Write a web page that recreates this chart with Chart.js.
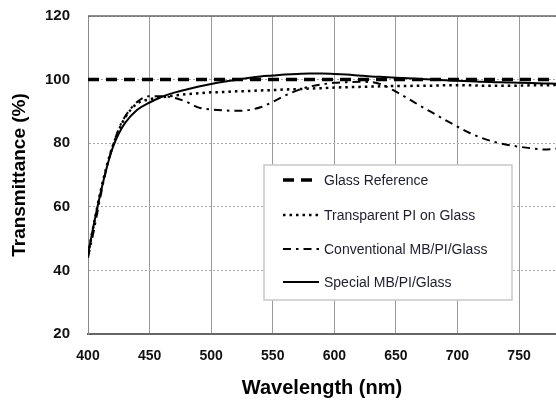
<!DOCTYPE html>
<html>
<head>
<meta charset="utf-8">
<script src="https://cdn.jsdelivr.net/npm/chart.js@4.4.1/dist/chart.umd.min.js"></script>
<style>
html, body { margin:0; padding:0; background:#fff; overflow:hidden; }
#wrap { width:556px; height:400px; }
</style>
</head>
<body>
<div id="wrap"><canvas id="myChart" width="556" height="400"></canvas></div>
<script>
var wavelengths = [400, 405, 410, 415, 420, 425, 430, 440, 450, 460, 470, 480, 490, 500, 510, 520, 530, 540, 550, 560,
 570, 580, 590, 600, 610, 620, 630, 640, 650, 660, 670, 680, 690, 700, 710, 720, 730, 740, 750, 760, 770, 780];

var glass_ref = [100, 100, 100, 100, 100, 100, 100, 100, 100, 100, 100, 100, 100, 100, 100, 100, 100, 100, 100, 100,
 100, 100, 100, 100, 100, 100, 100, 100, 100, 100, 100, 100, 100, 100, 100, 100, 100, 100, 100, 100, 100, 100];

var transparent_pi = [45, 55, 64.5, 72.5, 79, 84, 88, 92.5, 93.8, 94.4, 95, 95.4, 95.7, 96, 96.1, 96.3, 96.4, 96.6, 96.7, 96.9,
 97, 97.2, 97.3, 97.5, 97.6, 97.7, 97.8, 97.9, 98, 98, 98.1, 98.1, 98.2, 98.2, 98.2, 98.1, 98.1, 98.1, 98.1, 98.2, 98.2, 98.3];

var conventional_mb = [44, 53, 63, 72, 79, 84.5, 88.3, 93, 94.8, 94.8, 94.3, 93, 91.2, 90.6, 90.3, 90.2, 90.4, 91.3, 93, 95,
 96.6, 97.8, 98.5, 99, 99.2, 99.3, 99.2, 98.2, 96.2, 94, 91.7, 89.5, 87.3, 85.2, 83.2, 81.6, 80.4, 79.5, 78.9, 78.4, 78, 78.3];

var special_mb = [45, 55, 64, 72, 78.5, 83, 86.3, 90.5, 92.8, 94.6, 95.9, 96.9, 97.8, 98.6, 99.3, 99.9, 100.5, 101, 101.3, 101.6,
 101.8, 101.9, 101.9, 101.8, 101.6, 101.3, 101, 100.8, 100.6, 100.4, 100.2, 100, 99.8, 99.6, 99.5, 99.3, 99.2, 99.1, 99, 98.9, 98.8, 98.7];

var series_labels = ['Glass Reference', 'Transparent PI on Glass', 'Conventional MB/PI/Glass', 'Special MB/PI/Glass'];
var x_ticks = [400, 450, 500, 550, 600, 650, 700, 750];
var y_ticks = [20, 40, 60, 80, 100, 120];

function toPoints( values )
{
	var pts = [];
	for( var i=0; i<wavelengths.length; i++ )
		pts.push({ x: wavelengths[i], y: values[i] });
	return pts;
}

// legend drawn as a box inside the plot, like the excel original
var boxLegend = {
	id: 'boxLegend',
	afterDatasetsDraw: function(chart){
		var ctx = chart.ctx;
		var area = chart.chartArea;
		var x0 = 264, y0 = 165, w = 248, h = 135;
		var rows = [180, 215, 249, 282];
		ctx.save();
		// solid top border of the plot
		ctx.strokeStyle = '#666';
		ctx.lineWidth = 1.5;
		ctx.beginPath();
		ctx.moveTo(area.left, area.top);
		ctx.lineTo(area.right, area.top);
		ctx.stroke();

		ctx.fillStyle = '#fff';
		ctx.fillRect(x0, y0, w, h);
		ctx.strokeStyle = '#c8c8c8';
		ctx.lineWidth = 1.5;
		ctx.strokeRect(x0, y0, w, h);
		ctx.font = '14px "Liberation Sans", Arial, sans-serif';
		ctx.textBaseline = 'middle';
		chart.data.datasets.forEach(function(ds, i){
			ctx.beginPath();
			ctx.strokeStyle = ds.borderColor;
			ctx.lineWidth = ds.borderWidth;
			ctx.setLineDash(ds.borderDash || []);
			ctx.lineCap = ds.borderCapStyle || 'butt';
			ctx.moveTo(283, rows[i]);
			ctx.lineTo(319, rows[i]);
			ctx.stroke();
			ctx.setLineDash([]);
			ctx.fillStyle = '#1e1e2e';
			ctx.fillText(ds.label, 324, rows[i] + 1);
		});
		ctx.restore();
	}
};

var set_datas = {
	datasets: [
		{
			label: series_labels[0],
			data: toPoints(glass_ref),
			borderColor: '#000',
			borderWidth: 3.5,
			borderDash: [11, 7],
			pointRadius: 0
		},
		{
			label: series_labels[1],
			data: toPoints(transparent_pi),
			borderColor: '#000',
			borderWidth: 2.5,
			borderDash: [2.5, 4],
			pointRadius: 0
		},
		{
			label: series_labels[2],
			data: toPoints(conventional_mb),
			borderColor: '#000',
			borderWidth: 2,
			borderDash: [8, 5, 2.5, 5],
			pointRadius: 0
		},
		{
			label: series_labels[3],
			data: toPoints(special_mb),
			borderColor: '#000',
			borderWidth: 2,
			pointRadius: 0
		}
	]
};

var tickFont = { family: '"Liberation Sans", Arial, sans-serif', weight: 'bold', size: 15 };

var myChart = new Chart(document.getElementById('myChart'), {
	type: 'line',
	data: set_datas,
	plugins: [boxLegend],
	options: {
		responsive: false,
		animation: false,
		cubicInterpolationMode: 'monotone',
		layout: { padding: { top: 16, left: 0, right: 0, bottom: 0 } },
		plugins: { legend: { display: false }, tooltip: { enabled: false } },
		scales: {
			x: {
				type: 'linear',
				min: 400,
				max: 780,
				afterFit: function(s){ s.height = 66; s.paddingLeft = 0; s.paddingRight = 0; },
				afterBuildTicks: function(s){ s.ticks = x_ticks.map(function(v){ return { value: v }; }); },
				ticks: { includeBounds: false, stepSize: 50, padding: 14, color: '#111',
					font: { family: tickFont.family, weight: 'bold', size: 14 } },
				grid: { color: '#9a9a9a', lineWidth: 1, drawTicks: false },
				border: { color: '#666', width: 2 },
				title: { display: true, text: 'Wavelength (nm)', color: '#000', padding: 0,
					font: { family: tickFont.family, weight: 'bold', size: 20 } }
			},
			y: {
				min: 20,
				max: 120,
				afterFit: function(s){ s.width = 88; s.paddingTop = 0; s.paddingBottom = 0; },
				afterBuildTicks: function(s){ s.ticks = y_ticks.map(function(v){ return { value: v }; }); },
				ticks: { padding: 18, color: '#111', font: tickFont },
				grid: { color: '#a8a8a8', lineWidth: 1, drawTicks: false },
				border: { color: '#888', width: 1, dash: [2, 2] },
				title: { display: true, text: 'Transmittance (%)', color: '#000', padding: { top: 8 },
					font: { family: tickFont.family, weight: 'bold', size: 19 } }
			}
		}
	}
});
</script>
</body>
</html>
